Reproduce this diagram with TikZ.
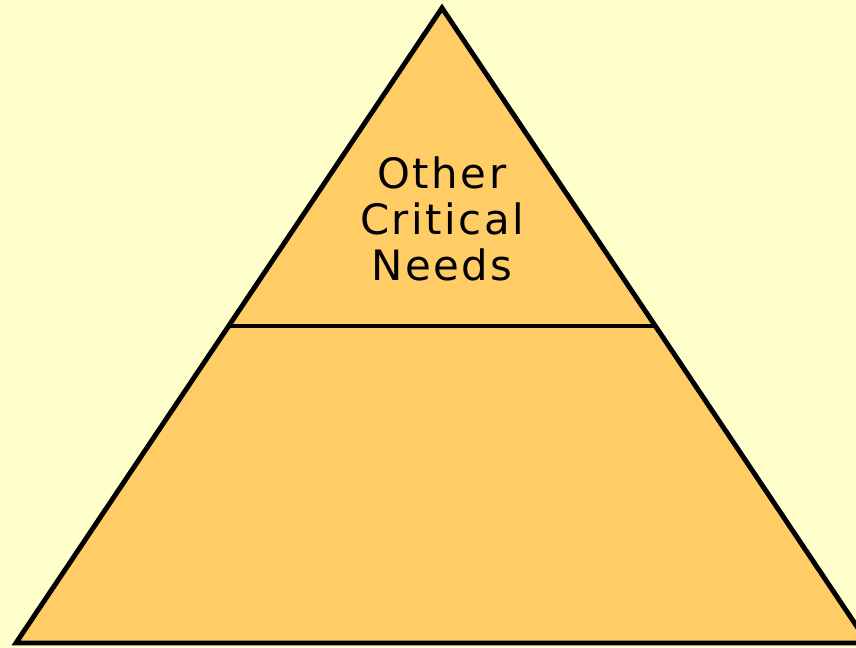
\documentclass[tikz,border=0pt]{standalone}
\usepackage{fontspec}
\setmainfont{DejaVu Sans}[LetterSpace=6]
\usepackage{xcolor}
\usepackage{tikz}
\usetikzlibrary{calc}
\definecolor{bg}{HTML}{FFFFCC}
\definecolor{tier}{HTML}{FFCC66}
\definecolor{edge}{HTML}{000000}
\tikzset{
  tierfill/.style={fill=tier, draw=edge, line width=1.4pt, line join=miter},
  divider/.style={draw=edge, line width=1.4pt},
  lab/.style={text=edge, font=\fontsize{11.9}{13.1}\selectfont, align=center}
}
\begin{document}
\begin{tikzpicture}
  \fill[bg] (0,0) rectangle (8.56,6.48);
  \useasboundingbox (0,0) rectangle (8.56,6.48);
  \clip (0,0) rectangle (8.56,6.48);

  \coordinate (Top) at (4.42,6.40);
  \coordinate (BL) at (0.16,0.05);
  \coordinate (BR) at (8.68,0.05);
  \coordinate (ML) at ($(Top)!0.5008!(BL)$);
  \coordinate (MR) at ($(Top)!0.5008!(BR)$);

  \draw[tierfill] (Top) -- (BR) -- (BL) -- cycle;
  \draw[divider] (ML) -- (MR);

  \node[lab] (needs) at (4.42,4.29) {Other\\Critical\\Needs};
\end{tikzpicture}
\end{document}
